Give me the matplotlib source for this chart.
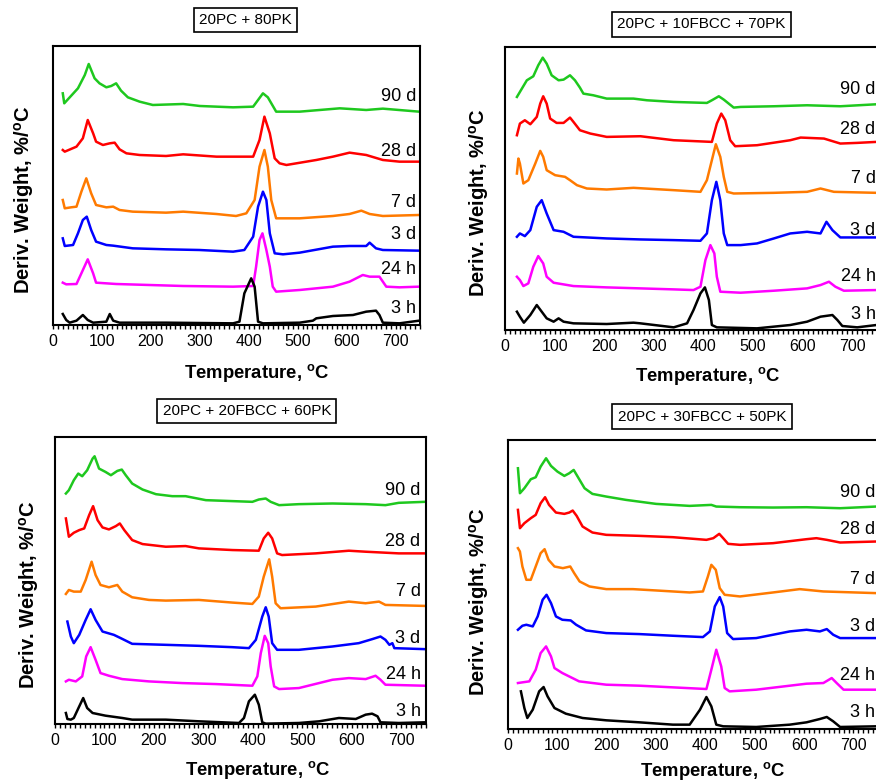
import numpy as np
import matplotlib.pyplot as plt
from matplotlib.ticker import MultipleLocator

plt.rcParams['font.family'] = ['Liberation Sans', 'DejaVu Sans']
plt.rcParams['mathtext.fontset'] = 'custom'
plt.rcParams['mathtext.rm'] = 'Liberation Sans'
plt.rcParams['mathtext.bf'] = 'Liberation Sans:bold'

# curve labels (top to bottom)
ages = ['90 d', '28 d', '7 d', '3 d', '24 h', '3 h']
colors = ['#1ec81e', '#ff0000', '#ff7a00', '#0000ff', '#ff00ff', '#000000']

# ---- 20PC + 80PK : (temperature C, stacked deriv. weight, arb. units)
a_90d = [(20, 695), (23, 665), (51, 710), (65, 750), (73, 783), (85, 740), (95, 725), (109, 713),
         (119, 717), (129, 725), (139, 703), (153, 683), (177, 670), (204, 660), (266, 663),
         (300, 657), (368, 653), (409, 655), (419, 675), (429, 695), (439, 683), (456, 640),
         (504, 640), (586, 650), (640, 645), (674, 649), (748, 640)]
a_28d = [(20, 525), (24, 520), (48, 535), (61, 560), (71, 615), (82, 575), (88, 550), (102, 540),
         (116, 545), (126, 547), (136, 527), (150, 515), (177, 510), (231, 507), (266, 512),
         (334, 505), (409, 505), (422, 555), (432, 625), (443, 575), (453, 500), (463, 485),
         (477, 480), (538, 495), (572, 505), (606, 517), (640, 510), (674, 495), (708, 490), (748, 490)]
a_7d = [(20, 375), (24, 350), (37, 353), (48, 355), (58, 400), (68, 440), (78, 395), (88, 360),
        (109, 353), (123, 355), (136, 345), (163, 340), (231, 337), (266, 340), (334, 333),
        (374, 327), (395, 335), (412, 375), (422, 475), (432, 525), (439, 475), (446, 375),
        (456, 320), (504, 320), (572, 327), (606, 333), (630, 343), (647, 333), (674, 327), (748, 330)]
a_3d = [(20, 260), (24, 237), (41, 240), (51, 275), (61, 315), (69, 325), (78, 285), (88, 250),
        (109, 240), (123, 238), (163, 230), (231, 227), (299, 225), (368, 220), (391, 225),
        (409, 265), (419, 355), (429, 400), (436, 375), (443, 275), (453, 215), (470, 212),
        (504, 217), (572, 235), (606, 237), (640, 237), (647, 247), (660, 230), (674, 225), (748, 223)]
a_24h = [(20, 127), (27, 122), (48, 123), (58, 155), (71, 197), (82, 155), (88, 127), (129, 123),
         (197, 120), (266, 117), (368, 115), (409, 117), (415, 175), (422, 255), (428, 275),
         (436, 225), (443, 175), (449, 115), (456, 100), (504, 105), (572, 115), (606, 130),
         (633, 150), (647, 145), (667, 145), (674, 130), (681, 115), (708, 113), (748, 115)]
a_3h = [(20, 33), (27, 15), (34, 7), (48, 13), (61, 30), (71, 15), (82, 7), (109, 10), (116, 33),
        (123, 13), (136, 7), (231, 7), (368, 5), (381, 10), (391, 95), (405, 140), (412, 115),
        (419, 10), (429, 5), (504, 7), (531, 13), (538, 20), (572, 27), (613, 30), (640, 40),
        (660, 43), (667, 30), (674, 7), (708, 5), (748, 13)]

# ---- 20PC + 10FBCC + 70PK
b_90d = [(24, 700), (30, 715), (44, 750), (57, 762), (67, 795), (76, 818), (84, 800), (94, 765),
         (108, 750), (118, 752), (131, 765), (141, 750), (151, 728), (158, 710), (178, 705),
         (205, 695), (259, 695), (286, 690), (340, 685), (407, 682), (417, 690), (431, 702),
         (441, 692), (461, 668), (475, 670), (542, 672), (609, 675), (676, 672), (749, 678)]
b_28d = [(24, 585), (30, 620), (40, 630), (51, 618), (64, 640), (71, 680), (77, 702), (84, 680),
         (91, 635), (104, 622), (118, 622), (131, 638), (138, 625), (151, 600), (172, 590),
         (205, 580), (273, 582), (340, 570), (417, 565), (427, 620), (436, 650), (444, 630),
         (454, 570), (464, 552), (508, 555), (575, 570), (596, 578), (643, 575), (676, 560),
         (710, 562), (749, 565)]
b_7d = [(24, 470), (27, 515), (30, 500), (37, 440), (47, 450), (61, 500), (71, 538), (77, 520),
        (84, 480), (101, 465), (121, 460), (131, 450), (145, 435), (165, 425), (205, 422),
        (259, 427), (340, 420), (394, 415), (407, 450), (417, 510), (425, 558), (434, 520),
        (441, 460), (448, 415), (461, 410), (542, 412), (609, 415), (636, 425), (663, 415), (749, 412)]
b_3d = [(24, 280), (30, 290), (40, 282), (51, 300), (64, 370), (74, 390), (84, 350), (98, 300),
        (118, 295), (138, 280), (205, 275), (273, 272), (340, 270), (394, 268), (407, 290),
        (417, 390), (426, 445), (434, 390), (441, 290), (448, 255), (475, 255), (508, 260),
        (542, 275), (575, 290), (609, 295), (636, 290), (648, 325), (660, 300), (676, 278), (749, 278)]
b_24h = [(24, 160), (30, 150), (37, 132), (47, 140), (57, 190), (67, 222), (77, 200), (84, 160),
         (98, 142), (138, 132), (205, 128), (273, 125), (340, 122), (380, 120), (394, 130),
         (404, 210), (414, 255), (422, 230), (427, 160), (434, 115), (475, 112), (542, 118),
         (609, 125), (636, 135), (653, 145), (666, 130), (683, 118), (749, 120)]
b_3h = [(24, 55), (30, 40), (38, 22), (51, 45), (64, 75), (74, 55), (84, 35), (98, 25), (108, 35),
        (118, 25), (138, 20), (205, 18), (259, 22), (273, 20), (340, 8), (367, 20), (380, 60),
        (394, 110), (403, 128), (411, 90), (417, 15), (427, 8), (508, 5), (575, 15), (609, 25),
        (636, 40), (660, 45), (670, 30), (680, 12), (710, 8), (749, 15)]

# ---- 20PC + 20FBCC + 60PK
c_90d = [(22, 693), (28, 703), (38, 733), (47, 753), (55, 745), (65, 763), (76, 798), (80, 805),
         (89, 768), (102, 758), (113, 748), (126, 761), (135, 765), (143, 748), (156, 723),
         (177, 705), (204, 691), (237, 685), (264, 685), (305, 673), (399, 668), (412, 675),
         (426, 678), (436, 668), (453, 658), (493, 661), (561, 663), (628, 661), (668, 658),
         (695, 665), (748, 668)]
c_28d = [(22, 618), (28, 563), (38, 575), (49, 583), (59, 588), (69, 628), (77, 655), (86, 613),
         (96, 591), (109, 585), (123, 595), (131, 603), (140, 583), (156, 553), (177, 541),
         (224, 533), (264, 535), (291, 528), (359, 523), (412, 521), (422, 558), (431, 575),
         (439, 558), (449, 513), (459, 508), (527, 513), (594, 521), (628, 518), (695, 513), (748, 513)]
c_7d = [(22, 391), (28, 403), (38, 398), (52, 398), (62, 433), (74, 488), (82, 448), (92, 418),
        (109, 411), (126, 418), (136, 398), (156, 381), (190, 373), (224, 371), (291, 373),
        (359, 365), (399, 361), (412, 383), (422, 443), (433, 495), (439, 443), (446, 363),
        (456, 348), (527, 353), (594, 368), (628, 363), (655, 368), (668, 358), (748, 355)]
c_3d = [(25, 308), (32, 263), (38, 243), (49, 268), (62, 313), (72, 345), (82, 313), (96, 278),
        (119, 268), (133, 258), (156, 241), (224, 238), (291, 235), (358, 231), (392, 228),
        (406, 253), (419, 323), (426, 351), (432, 323), (439, 243), (449, 223), (493, 223),
        (561, 233), (614, 243), (641, 255), (658, 263), (668, 253), (676, 238), (682, 243),
        (686, 228), (748, 225)]
c_24h = [(22, 128), (28, 133), (42, 128), (55, 143), (63, 203), (72, 231), (82, 193), (92, 153),
         (109, 145), (136, 135), (190, 128), (257, 123), (325, 120), (399, 115), (409, 143),
         (416, 213), (424, 265), (431, 243), (436, 173), (443, 113), (453, 105), (493, 108),
         (561, 133), (594, 138), (628, 135), (648, 145), (658, 133), (668, 118), (748, 115)]
c_3h = [(22, 33), (25, 15), (32, 13), (38, 18), (49, 53), (57, 78), (65, 48), (76, 33), (102, 25),
        (136, 18), (156, 13), (224, 13), (291, 8), (372, 3), (382, 18), (392, 68), (404, 88),
        (412, 58), (419, 5), (426, 1), (493, 3), (534, 8), (574, 18), (608, 15), (628, 28),
        (641, 31), (652, 23), (658, 5), (695, 3), (748, 5)]

# ---- 20PC + 30FBCC + 50PK
d_90d = [(20, 783), (24, 708), (33, 723), (46, 750), (56, 756), (66, 788), (77, 813), (87, 790),
         (100, 773), (114, 760), (124, 768), (133, 778), (141, 758), (155, 723), (171, 706),
         (199, 698), (239, 688), (300, 676), (368, 670), (412, 673), (422, 668), (470, 666),
         (537, 665), (605, 666), (673, 663), (746, 668)]
d_28d = [(20, 658), (24, 603), (33, 618), (46, 633), (56, 643), (66, 678), (75, 696), (83, 673),
         (97, 650), (114, 646), (124, 650), (131, 656), (139, 640), (151, 608), (171, 590),
         (199, 583), (266, 580), (334, 576), (402, 568), (416, 573), (428, 586), (436, 573),
         (446, 556), (470, 553), (537, 558), (605, 570), (625, 573), (646, 568), (673, 560), (746, 563)]
d_7d = [(20, 543), (24, 533), (29, 488), (37, 448), (46, 448), (56, 488), (66, 528), (74, 540),
        (82, 508), (94, 488), (111, 483), (126, 488), (134, 468), (145, 443), (165, 428),
        (199, 420), (253, 420), (300, 416), (368, 410), (395, 413), (405, 458), (412, 493),
        (421, 478), (429, 423), (439, 403), (470, 398), (537, 410), (591, 420), (639, 413), (746, 408)]
d_3d = [(20, 298), (29, 310), (37, 313), (50, 308), (60, 338), (70, 388), (78, 403), (87, 378),
        (97, 338), (110, 328), (127, 326), (138, 313), (158, 296), (199, 288), (266, 285),
        (334, 280), (395, 276), (409, 293), (419, 368), (429, 396), (436, 368), (444, 288),
        (456, 270), (503, 273), (571, 293), (605, 298), (632, 293), (646, 300), (659, 283),
        (673, 273), (746, 273)]
d_24h = [(20, 138), (29, 140), (43, 143), (56, 178), (66, 228), (77, 248), (87, 218), (94, 183),
         (110, 168), (144, 143), (199, 133), (266, 130), (334, 125), (402, 120), (412, 178),
         (422, 238), (432, 188), (439, 123), (449, 113), (503, 118), (571, 130), (605, 136),
         (639, 138), (656, 153), (666, 138), (680, 118), (746, 118)]
d_3h = [(26, 113), (33, 63), (39, 33), (50, 58), (63, 113), (72, 126), (80, 98), (94, 63),
        (117, 46), (151, 33), (199, 26), (266, 20), (334, 13), (368, 13), (389, 58), (402, 96),
        (412, 68), (422, 13), (436, 8), (503, 6), (571, 13), (605, 20), (632, 30), (646, 36),
        (659, 23), (673, 6), (746, 8)]

titles = ['20PC + 80PK', '20PC + 10FBCC + 70PK', '20PC + 20FBCC + 60PK', '20PC + 30FBCC + 50PK']
curves = [[a_90d, a_28d, a_7d, a_3d, a_24h, a_3h],
          [b_90d, b_28d, b_7d, b_3d, b_24h, b_3h],
          [c_90d, c_28d, c_7d, c_3d, c_24h, c_3h],
          [d_90d, d_28d, d_7d, d_3d, d_24h, d_3h]]

# layout (figure fractions) and label placements
rects = [[0.0605, 0.5844, 0.419, 0.3568],
         [0.5765, 0.578, 0.4247, 0.3619],
         [0.0628, 0.0742, 0.4235, 0.367],
         [0.580, 0.0678, 0.4224, 0.3696]]
ytops = [837, 850, 863, 868]
label_y = [[685, 520, 368, 270, 167, 50],
           [722, 602, 455, 300, 160, 48],
           [703, 548, 398, 258, 148, 38],
           [710, 598, 450, 308, 160, 48]]
label_x = [742, 747, 739, 744]
ylab_pos = [(-0.046, 0.448), (-0.038, 0.449), (-0.038, 0.449), (-0.046, 0.44)]
xlab_pos = [(0.556, -0.133), (0.546, -0.124), (0.547, -0.121), (0.554, -0.107)]
title_pos = [(0.525, 1.093), (0.527, 1.08), (0.517, 1.09), (0.524, 1.081)]

fig = plt.figure(figsize=(8.76, 7.82), dpi=100)

for i in range(4):
    ax = fig.add_axes(rects[i])
    for pts, col in zip(curves[i], colors):
        arr = np.array(pts)
        ax.plot(arr[:, 0], arr[:, 1], color=col, lw=1.8, solid_joinstyle='round')
    for lab, ly in zip(ages, label_y[i]):
        ax.text(label_x[i], ly, lab, ha='right', va='center', fontsize=13)
    ax.set_xlim(0, 750)
    ax.set_ylim(0, ytops[i])
    ax.set_yticks([])
    ax.xaxis.set_major_locator(MultipleLocator(100))
    ax.xaxis.set_minor_locator(MultipleLocator(10))
    ax.tick_params(axis='x', which='both', direction='out', length=3, width=1, labelsize=11.5)
    for s in ax.spines.values():
        s.set_linewidth(1.5)
    ax.set_xlabel(r'Temperature, $\mathbf{^o}$C', fontsize=13.3, fontweight='bold')
    ax.xaxis.set_label_coords(*xlab_pos[i])
    ax.set_ylabel(r'Deriv. Weight, %/$\mathbf{^o}$C', fontsize=14.5, fontweight='bold')
    ax.yaxis.set_label_coords(*ylab_pos[i])
    ax.text(title_pos[i][0], title_pos[i][1], titles[i], transform=ax.transAxes,
            ha='center', va='center', fontsize=11,
            bbox=dict(boxstyle='square,pad=0.35', fc='white', ec='black', lw=1.2))

plt.savefig('out.png', dpi=100)
